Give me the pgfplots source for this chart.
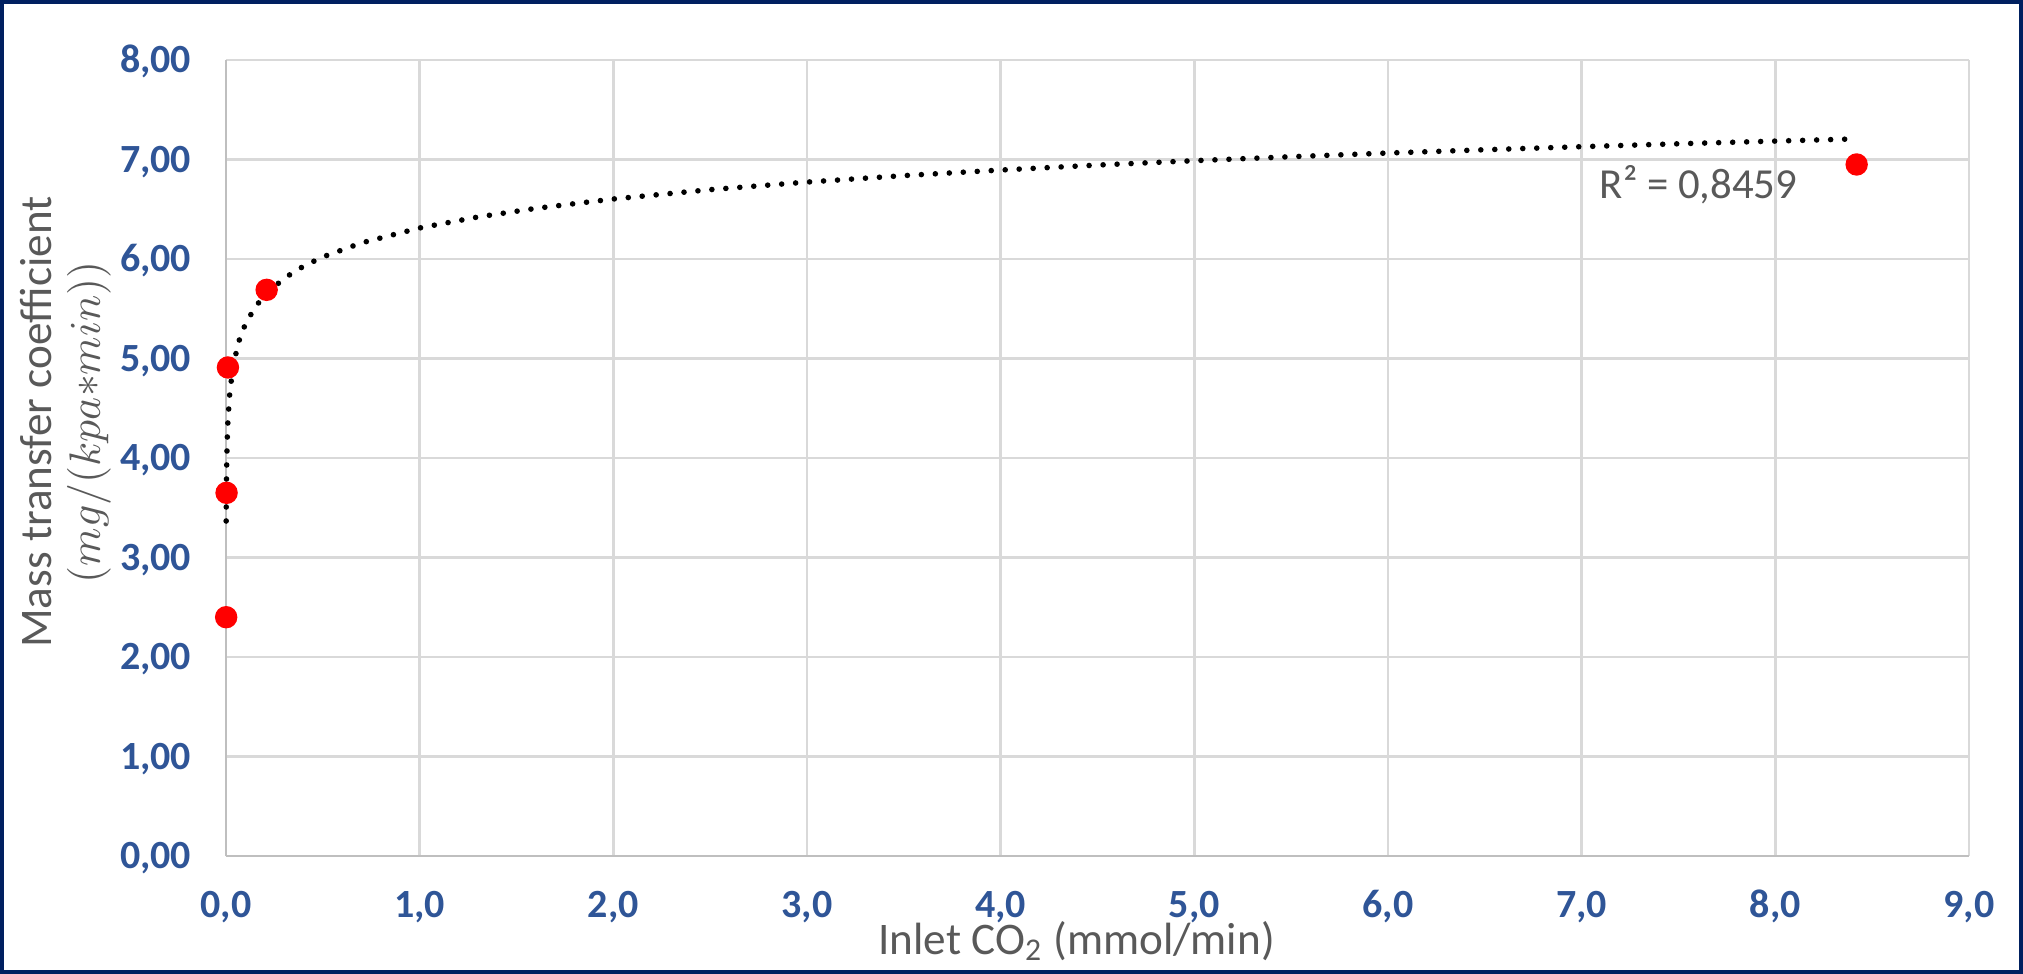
\documentclass[border=0pt]{standalone}
\usepackage{fontspec}
\setmainfont{Carlito}
\usepackage{pgfplots}
\pgfplotsset{compat=1.18}
\usetikzlibrary{calc}

\definecolor{tickblue}{HTML}{2F5597}
\definecolor{labelgray}{HTML}{595959}
\definecolor{framenavy}{HTML}{002060}
\definecolor{gridgray}{HTML}{D9D9D9}
\definecolor{axisgray}{HTML}{BFBFBF}

\begin{document}
\begin{tikzpicture}
\useasboundingbox (-56.5pt,-29.5pt) rectangle (449.25pt,214pt);
\begin{axis}[
    at={(0,0)}, anchor=south west,
    scale only axis,
    width=435.75pt, height=199pt,
    xmin=0, xmax=9, ymin=0, ymax=8,
    xtick={0,...,9}, ytick={0,...,8},
    axis x line=bottom, axis y line=left,
    axis line style={axisgray, line width=0.6pt, -},
    grid=major,
    major grid style={gridgray, line width=0.6pt},
    major tick length=0pt,
    clip=false,
    /pgf/number format/assume math mode=true,
    tick label style={font=\fontsize{10}{12}\selectfont\bfseries, text=tickblue, inner sep=0pt},
    xticklabel style={anchor=base, yshift=-15.25pt,
        /pgf/number format/.cd, fixed, fixed zerofill, precision=1, use comma},
    yticklabel style={anchor=base east, xshift=-8.5pt, yshift=-3.2pt,
        /pgf/number format/.cd, fixed, fixed zerofill, precision=2, use comma},
]

% measured points
\addplot[red, only marks, mark=*, mark size=2.6pt, mark options={fill=red, draw=red}]
coordinates {
    (0.0009, 2.40)
    (0.003, 3.65)
    (0.01, 4.91)
    (0.21, 5.69)
    (8.42, 6.95)
};

% logarithmic trendline (dotted)
\addplot[black, line width=1.4pt, line cap=round, dash pattern=on 0pt off 3.5pt]
coordinates {
    (0.0009, 3.367) (0.0015, 3.581) (0.003, 3.872) (0.006, 4.163)
    (0.01, 4.378) (0.02, 4.669) (0.04, 4.960) (0.07, 5.195)
    (0.1, 5.345) (0.15, 5.515) (0.2, 5.636) (0.3, 5.806)
    (0.4, 5.927) (0.5, 6.021) (0.7, 6.162) (1.0, 6.312)
    (1.3, 6.422) (1.6, 6.509) (2.0, 6.603) (2.5, 6.697)
    (3.0, 6.773) (3.5, 6.838) (4.0, 6.894) (4.5, 6.944)
    (5.0, 6.988) (5.5, 7.028) (6.0, 7.065) (6.5, 7.098)
    (7.0, 7.129) (7.5, 7.158) (8.0, 7.185) (8.38, 7.205)
};

\node[anchor=base west, inner sep=0pt, text=labelgray, font=\fontsize{10.7}{12}\selectfont]
    at (axis cs:7.09,6.61) {R² = 0,8459};

% axis titles
\node[anchor=base, inner sep=0pt, text=labelgray, font=\fontsize{11.3}{13}\selectfont]
    at ($(axis description cs:0.488,0)+(0,-24.5pt)$) {Inlet CO\textsubscript{2} (mmol/min)};
\node[anchor=base, rotate=90, inner sep=0pt, text=labelgray, font=\fontsize{11.3}{13}\selectfont]
    at ($(axis description cs:0,0.545)+(-43.5pt,0)$) {Mass transfer coefficient};
\node[anchor=base, rotate=90, inner sep=0pt, text=labelgray, font=\fontsize{10.5}{12}\selectfont]
    at ($(axis description cs:0,0.545)+(-31.5pt,0)$) {$(mg/(kpa{*}min))$};
\end{axis}
\draw[framenavy, line width=1pt] (-56pt,-29pt) rectangle (448.75pt,213.5pt);
\end{tikzpicture}
\end{document}
